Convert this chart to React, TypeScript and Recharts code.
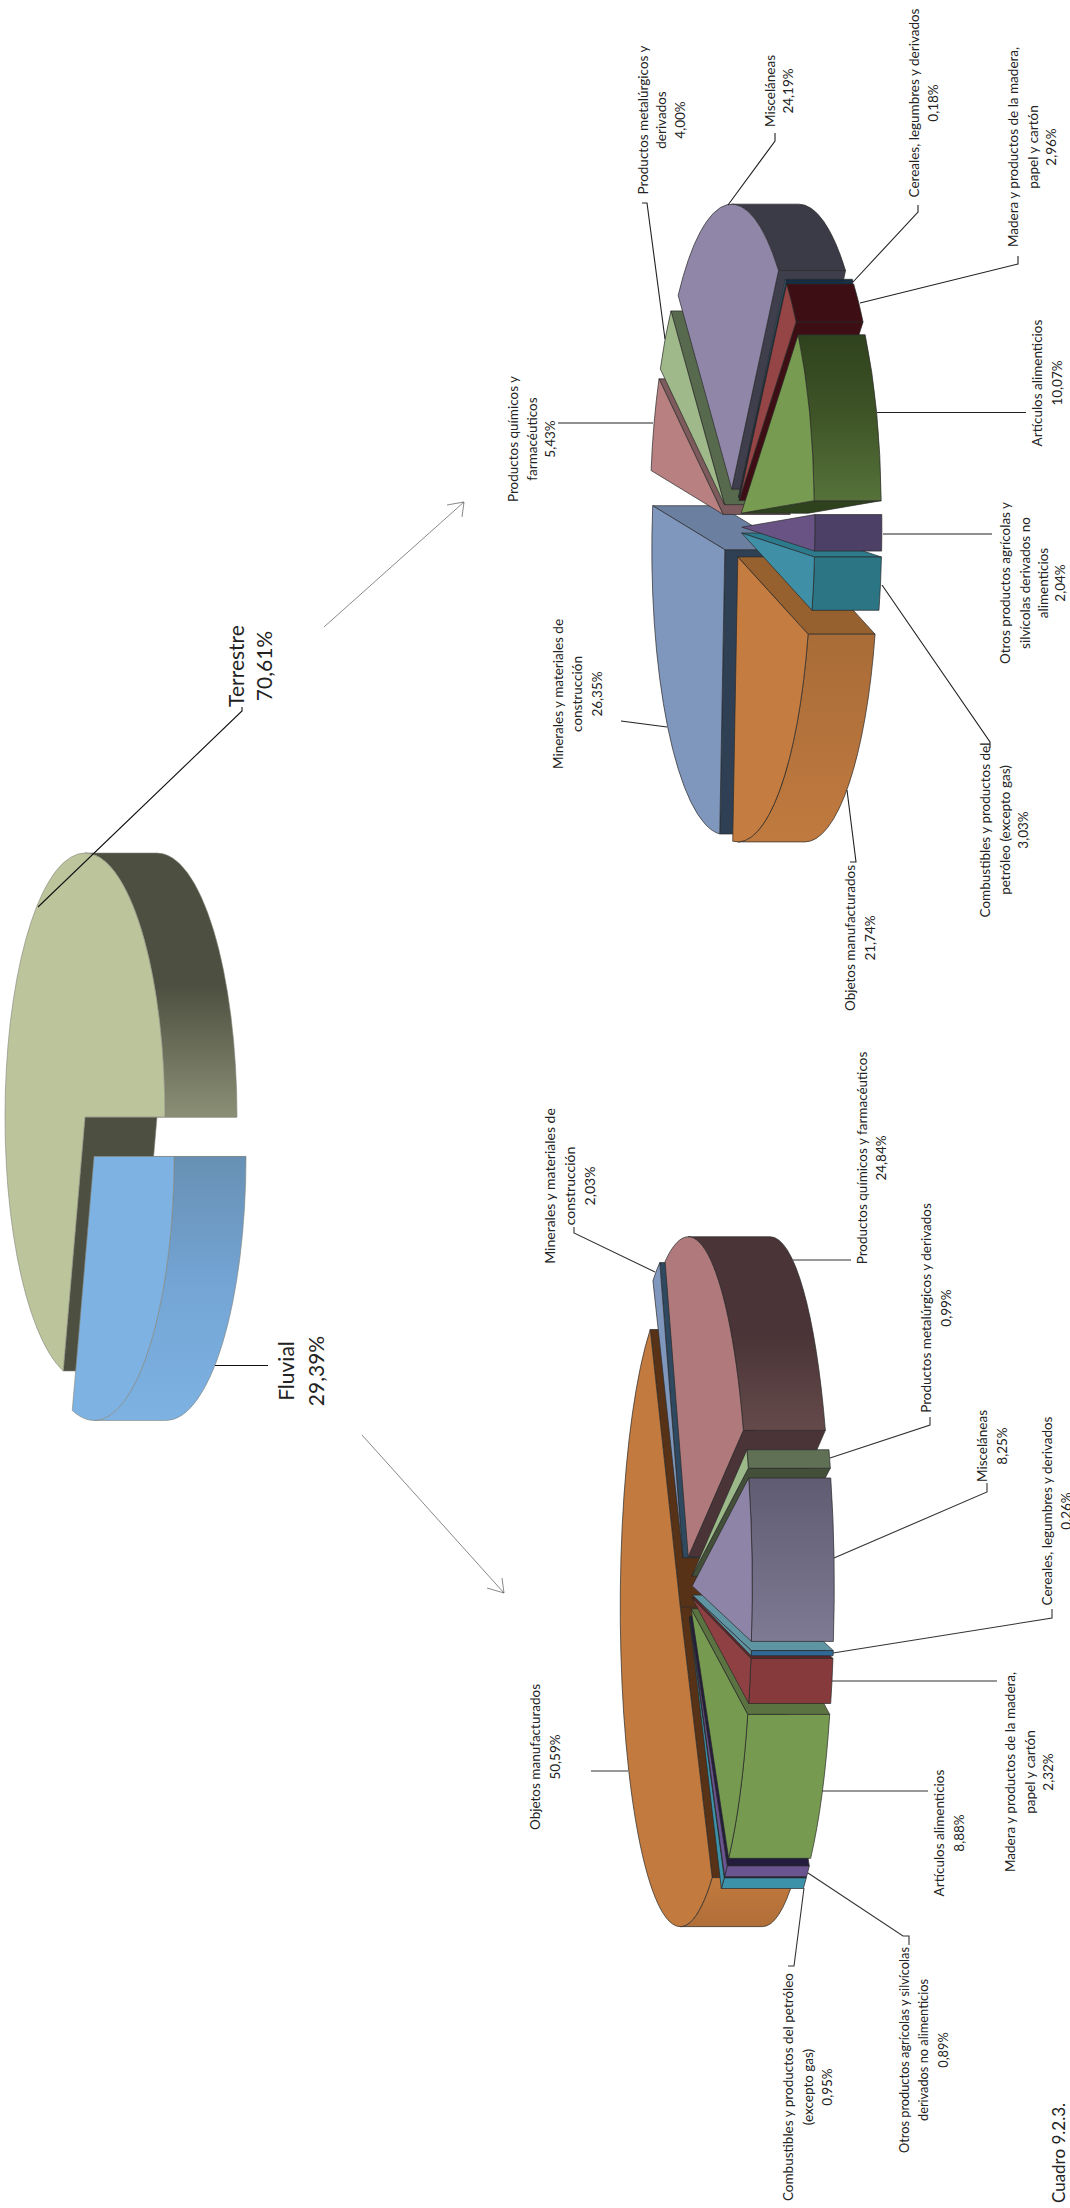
import React from 'react';
import { PieChart, Pie } from 'recharts';

// ---------- data ----------
const modeNames = ['Fluvial', 'Terrestre'];
const modeValues = [29.39, 70.61];

const cargoNames = [
  'Minerales y materiales de construcción',
  'Productos químicos y farmacéuticos',
  'Productos metalúrgicos y derivados',
  'Misceláneas',
  'Cereales, legumbres y derivados',
  'Madera y productos de la madera, papel y cartón',
  'Artículos alimenticios',
  'Otros productos agrícolas y silvícolas derivados no alimenticios',
  'Combustibles y productos del petróleo (excepto gas)',
  'Objetos manufacturados',
];
const fluvialValues = [2.03, 24.84, 0.99, 8.25, 0.26, 2.32, 8.88, 0.89, 0.95, 50.59];
const terrestreValues = [26.35, 5.43, 4.0, 24.19, 0.18, 2.96, 10.07, 2.04, 3.03, 21.74];

const modeLines = [['Fluvial'], ['Terrestre']];
const fluvialLines = [
  ['Minerales y materiales de', 'construcción'],
  ['Productos químicos y farmacéuticos'],
  ['Productos metalúrgicos y derivados'],
  ['Misceláneas'],
  ['Cereales, legumbres y derivados'],
  ['Madera y productos de la madera,', 'papel y cartón'],
  ['Artículos alimenticios'],
  ['Otros productos agrícolas y silvícolas', 'derivados no alimenticios'],
  ['Combustibles y productos del petróleo', '(excepto gas)'],
  ['Objetos manufacturados'],
];
const terrestreLines = [
  ['Minerales y materiales de', 'construcción'],
  ['Productos químicos y', 'farmacéuticos'],
  ['Productos metalúrgicos y', 'derivados'],
  ['Misceláneas'],
  ['Cereales, legumbres y derivados'],
  ['Madera y productos de la madera,', 'papel y cartón'],
  ['Artículos alimenticios'],
  ['Otros productos agrícolas y', 'silvícolas derivados no', 'alimenticios'],
  ['Combustibles y productos del', 'petróleo (excepto gas)'],
  ['Objetos manufacturados'],
];

// ---------- styles ----------
const W = 2208;
const H = 1070;

const modeStyle = {
  id: 'mode', cx: 1091, cy: 85, a: 264, b: 80, depth: 72, start: 270,
  explode: [0.1875, 0], paint: [1, 0], stroke: '#85857a', strokeWidth: 0.6, fontSize: 21, lineColor: '#111',
  top: ['#7db2e2', '#bcc49c'],
  outer: [['#7db2e2', '#74a5d5', '#6890b4'], ['#8b8f75', '#4d5040', '#4d5040']],
  startWall: ['#6890b4', '#4d5040'],
  endWall: ['#6890b4', '#4d5040'],
};
const fluvialStyle = {
  id: 'flu', cx: 619.2, cy: 685.8, a: 320, b: 60, depth: 82, start: 30,
  explode: Array(10).fill(0.108), paint: [9, 0, 1, 2, 8, 7, 6, 5, 4, 3], stroke: '#2a2a2a', strokeWidth: 0.7, fontSize: 13.5, lineColor: '#333',
  top: ['#7f96bd', '#b07a7c', '#9cb98a', '#8e84a8', '#5f94a2', '#8e4042', '#769a50', '#6a5590', '#3c92a8', '#c27a3e'],
  outer: [['#2f4a60'], ['#654a4a', '#4a3437', '#4a3437'], ['#5f7055'], ['#7f7a94', '#5f5c72'], ['#2f6a96'], ['#873a3c'], ['#769a50'], ['#6a5590'], ['#3c92a8'], ['#b06e38', '#c27a3e']],
  startWall: ['#2f4a60', '#4a3437', '#434f38', '#5f5c72', '#5f94a2', '#5e2528', '#5b7340', '#231c3d', '#1f1a33', '#573216'],
  endWall: ['#2f4a60', '#4a3437', '#434f38', '#5f5c72', '#2f6a96', '#5e2528', '#5b7340', '#231c3d', '#1f1a33', '#573216'],
};
const terrestreStyle = {
  id: 'ter', cx: 1681.6, cy: 732.3, a: 285, b: 73, depth: 67, start: 176,
  explode: Array(10).fill(0.131), paint: [0, 9, 8, 7, 1, 2, 3, 4, 5, 6], stroke: '#2a2a2a', strokeWidth: 0.7, fontSize: 13.5, lineColor: '#222',
  top: ['#7f96bd', '#b88080', '#a0b98a', '#8f86a8', '#3f8fb5', '#954545', '#779b50', '#695385', '#3f90a7', '#c47c40'],
  outer: [['#6b80a0'], ['#7d5a5c'], ['#586a4d'], ['#3b3a47'], ['#0f2f4a'], ['#3d0e14'], ['#56723a', '#3f5527', '#2f421e'], ['#4c4067'], ['#2b7585'], ['#c07a3f', '#a96c38']],
  startWall: ['#2f4055', '#7d5a5c', '#586a4d', '#3f3e4c', '#0f2f4a', '#3d0e14', '#2f421e', '#4c4067', '#2d7a8c', '#96602f'],
  endWall: ['#6b80a0', '#7d5a5c', '#586a4d', '#3f3e4c', '#0f2f4a', '#3d0e14', '#2f421e', '#4c4067', '#2d7a8c', '#96602f'],
};

// ---------- label placement, written in page coordinates (x, y) ----------
const modeLayout = [
  { cols: [285, 315], y: 1371, line: [[215, 1365.5], [268, 1365.5]] },
  { cols: [235, 263], y: 666, line: [[38, 907], [242, 711], [242, 707]] },
];
const fluvialLayout = [
  { cols: [549, 569, 589], y: 1186, fs: 14, line: [[655, 1272], [574, 1233], [574, 1227]] },
  { cols: [862, 881], y: 1158, line: [[793, 1260], [851, 1260]] },
  { cols: [926, 946], y: 1308, line: [[830, 1458], [930, 1425], [930, 1417]] },
  { cols: [982, 1002], y: 1446, line: [[834, 1558], [987, 1492], [987, 1483]] },
  { cols: [1047, 1066], y: 1511, line: [[833, 1653], [1052, 1618], [1052, 1609]] },
  { cols: [1010, 1030, 1048], y: 1772, line: [[832, 1681], [997, 1681]] },
  { cols: [939, 959], y: 1833, line: [[822, 1791], [928, 1791]] },
  { cols: [904, 923, 943], y: 2050, fs: 12.8, line: [[808, 1873], [903, 1936], [909, 1936], [909, 1945]] },
  { cols: [788, 808, 827], y: 2087, line: [[804, 1888], [794, 1966], [788, 1966]] },
  { cols: [535, 555], y: 1757, line: [[591, 1771], [628, 1771]] },
];
const terrestreLayout = [
  { cols: [558, 577, 597], y: 694, line: [[621, 721], [667, 727]] },
  { cols: [513, 532, 550], y: 439, line: [[558, 423], [653, 423]] },
  { cols: [643, 661, 680], y: 120, line: [[665, 339], [647, 203], [642, 203]] },
  { cols: [770, 788], y: 91, line: [[728, 205], [775, 141], [775, 133]] },
  { cols: [914, 933], y: 103, line: [[853, 282], [918, 212], [918, 205]] },
  { cols: [1013, 1033, 1051], y: 147, line: [[860, 303], [1018, 264], [1018, 256]] },
  { cols: [1037, 1057], y: 383, line: [[877, 412.5], [1026, 412.5]] },
  { cols: [1005, 1025, 1043, 1060], y: 583, line: [[883, 534], [992, 534]] },
  { cols: [985, 1005, 1023], y: 830, line: [[882, 585], [990, 742], [990, 748]] },
  { cols: [850, 870], y: 938, line: [[847, 790], [856, 862], [850, 862]] },
];
const arrows = [
  { line: [[324, 627], [464, 502]], head: [[447, 505], [464, 502], [462, 517]] },
  { line: [[362, 1435], [504, 1593]], head: [[487, 1588], [504, 1593], [502, 1578]] },
];

const toChart = (pts: number[][]) => pts.map(([x, y]) => `${W - y},${x}`).join(' ');
const rad = (d: number) => (d * Math.PI) / 180;
const fmt = (v: number) => v.toFixed(2).replace('.', ',') + '%';

// ---------- 3D slice ----------
function Slice3D({ p, st }: any) {
  const slot = p.slot ?? p.payload?.slot;
  const { a, b, depth, id } = st;
  const s = p.startAngle;
  const e = p.endAngle;
  const m = (s + e) / 2;
  const ex = st.explode[slot] * a;
  const ey = st.explode[slot] * b;
  const ax = p.cx + ex * Math.cos(rad(m));
  const ay = p.cy - ey * Math.sin(rad(m));
  const P = (t: number, d = 0) => [ax + a * Math.cos(rad(t)), ay - b * Math.sin(rad(t)) + d];
  const [sx, sy] = P(s);
  const [tx, ty] = P(e);
  const large = Math.abs(s - e) > 180 ? 1 : 0;
  const topPath = `M${ax},${ay} L${sx},${sy} A${a},${b} 0 ${large} 1 ${tx},${ty} Z`;
  const common = { stroke: st.stroke, strokeWidth: st.strokeWidth, strokeLinejoin: 'round' as const };

  const walls: any[] = [];
  if (Math.cos(rad(s)) < 0) {
    walls.push(
      <path key="ws" {...common} fill={st.startWall[slot]}
        d={`M${ax},${ay} L${sx},${sy} L${sx},${sy + depth} L${ax},${ay + depth} Z`} />,
    );
  }
  if (Math.cos(rad(e)) > 0) {
    walls.push(
      <path key="we" {...common} fill={st.endWall[slot]}
        d={`M${ax},${ay} L${tx},${ty} L${tx},${ty + depth} L${ax},${ay + depth} Z`} />,
    );
  }
  [-1, 0, 1].forEach((k) => {
    const lo = Math.max(e, -180 + 360 * k);
    const hi = Math.min(s, 360 * k);
    if (hi <= lo) return;
    const [x1, y1] = P(hi);
    const [x2, y2] = P(lo);
    const gid = `${id}-${slot}-${k}`;
    const colors = st.outer[slot];
    walls.push(
      <React.Fragment key={gid}>
        <linearGradient id={gid} gradientUnits="userSpaceOnUse" x1={x2} y1={0} x2={x1} y2={0}>
          {colors.map((c: string, i: number) => (
            <stop key={i} offset={colors.length > 1 ? i / (colors.length - 1) : 0} stopColor={c} />
          ))}
        </linearGradient>
        <path {...common} fill={`url(#${gid})`}
          d={`M${x1},${y1} A${a},${b} 0 0 1 ${x2},${y2} L${x2},${y2 + depth} A${a},${b} 0 0 0 ${x1},${y1 + depth} Z`} />
      </React.Fragment>,
    );
  });

  return (
    <g>
      {walls}
      <path {...common} d={topPath} fill={st.top[slot]} />
    </g>
  );
}

// ---------- label + leader ----------
function Label({ p, layout, lines, values, st }: any) {
  const i = p.index;
  const l = layout[i];
  const rows = [...lines[i], fmt(values[i])];
  return (
    <g>
      <polyline points={toChart(l.line)} fill="none" stroke={st.lineColor} strokeWidth={1.1} />
      {rows.map((t: string, r: number) => (
        <text key={r} x={W - l.y} y={l.cols[r]} textAnchor="middle" dominantBaseline="central"
          fontFamily="Lato, 'Open Sans', sans-serif" fontSize={l.fs ?? st.fontSize} fill="#222">
          {t}
        </text>
      ))}
    </g>
  );
}

function PieLayers({ names, values, st, layout, lines }: any) {
  const rows = names.map((name: string, slot: number) => ({ name, value: values[slot], slot }));
  const base = {
    data: rows, dataKey: 'value', nameKey: 'name', cx: st.cx, cy: st.cy, innerRadius: 0, outerRadius: st.a,
    startAngle: st.start, endAngle: st.start - 360, paddingAngle: 0, isAnimationActive: false,
  };
  return [
    ...st.paint.map((slot: number) => (
      <Pie key={`${st.id}-${slot}`} {...base}
        shape={(p: any) => ((p.slot ?? p.payload?.slot) === slot ? <Slice3D p={p} st={st} /> : <g />)} />
    )),
    <Pie key={`${st.id}-labels`} {...base} shape={() => <g />} labelLine={false}
      label={(p: any) => <Label p={p} layout={layout} lines={lines} values={values} st={st} />} />,
  ];
}

export default function App() {
  return (
    <div style={{
      position: 'absolute', left: 0, top: 0, width: W, height: H,
      transformOrigin: '0 0', transform: `translate(0px, ${W}px) rotate(-90deg)`,
    }}>
      <PieChart width={W} height={H} margin={{ top: 0, right: 0, bottom: 0, left: 0 }}>
        {PieLayers({ names: modeNames, values: modeValues, st: modeStyle, layout: modeLayout, lines: modeLines })}
        {PieLayers({ names: cargoNames, values: fluvialValues, st: fluvialStyle, layout: fluvialLayout, lines: fluvialLines })}
        {PieLayers({ names: cargoNames, values: terrestreValues, st: terrestreStyle, layout: terrestreLayout, lines: terrestreLines })}
        {arrows.map((ar, i) => (
          <g key={i} fill="none" stroke="#555" strokeWidth={0.7}>
            <polyline points={toChart(ar.line)} />
            <polyline points={toChart(ar.head)} />
          </g>
        ))}
        <text x={W - 2153} y={1058} textAnchor="middle" dominantBaseline="central"
          fontFamily="Lato, sans-serif" fontSize={17} fill="#222">
          Cuadro 9.2.3.
        </text>
      </PieChart>
    </div>
  );
}
